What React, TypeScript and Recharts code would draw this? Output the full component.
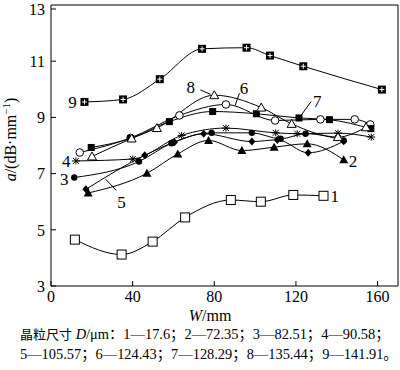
import React from "react";
import {
  ComposedChart,
  Line,
  XAxis,
  YAxis,
  ReferenceLine,
  ReferenceDot,
} from "recharts";

// W (mm) and a (dB/mm), one pair of arrays per grain size
const w1 = [11.7, 34.6, 49.8, 65.7, 88.1, 102.8, 118.7, 133.5];
const a1 = [4.65, 4.12, 4.58, 5.44, 6.06, 6.0, 6.24, 6.21];
const w2 = [18.2, 47, 62.1, 77.2, 93.5, 109.3, 125.5, 143.4];
const a2 = [6.31, 7.01, 7.7, 8.18, 7.82, 7.94, 8.06, 7.49];
const w3 = [11.4, 43.1, 59, 78.7, 98.4, 112.5, 124.7, 143.4];
const a3 = [6.86, 7.43, 8.08, 8.45, 8.45, 8.24, 8.42, 8.18];
const w4 = [12.2, 40.1, 64, 85.7, 110.1, 120.6, 140.6, 156.9];
const a4 = [7.45, 7.52, 8.36, 8.62, 8.45, 8.42, 8.44, 8.3];
const w5 = [17.1, 45.9, 60.5, 74.8, 98.4, 110.9, 126, 143.4];
const a5 = [6.44, 7.65, 8.12, 8.42, 8.14, 8.2, 7.74, 8.15];
const w6 = [14.1, 39, 62.9, 85.7, 109.8, 132, 148.8, 156.4];
const a6 = [7.75, 8.27, 9.07, 9.46, 8.89, 8.93, 8.93, 8.75];
const w7 = [19.7, 39, 58, 79.2, 100.6, 121.5, 136.4, 156.7];
const a7 = [7.93, 8.25, 8.85, 9.21, 9.13, 8.98, 8.92, 8.6];
const w8 = [20.1, 39.5, 51.9, 80, 103, 117.9, 140.6, 154.3];
const a8 = [7.61, 8.25, 8.62, 9.79, 9.35, 8.77, 8.3, 8.65];
const w9 = [16.4, 35.3, 53.3, 74, 95.8, 107.3, 123.6, 162.1];
const a9 = [9.55, 9.64, 10.36, 11.44, 11.48, 11.2, 10.82, 9.99];

const xTicks = [0, 40, 80, 120, 160];
const yTicks = [3, 5, 7, 9, 11, 13];

const grainSizes = ["17.6", "72.35", "82.51", "90.58", "105.57", "124.43", "128.29", "135.44", "141.91"];

// curve number labels and their leader lines (data coords)
const labelText = ["1", "2", "3", "4", "5", "6", "7", "8", "9"];
const labelW = [139, 148, 6.5, 7.5, 34.5, 94.5, 130.5, 68.5, 10.5];
const labelA = [6.2, 7.45, 6.82, 7.47, 6.0, 10.05, 9.6, 10.08, 9.55];
const leaders = [
  [[32, 6.4], [26.8, 6.8]],
  [[92.3, 9.86], [90.2, 9.42]],
  [[127.4, 9.56], [122.3, 9.05]],
  [[73.2, 9.98], [78.2, 9.82]],
];

const markerKinds = ["openSquare", "triangle", "circle", "star", "diamond", "openCircle", "square", "openTriangle", "crossSquare"];

const toPoints = (w: number[], a: number[]) => w.map((x, i) => ({ x, y: a[i] }));
const series = [
  toPoints(w1, a1),
  toPoints(w2, a2),
  toPoints(w3, a3),
  toPoints(w4, a4),
  toPoints(w5, a5),
  toPoints(w6, a6),
  toPoints(w7, a7),
  toPoints(w8, a8),
  toPoints(w9, a9),
];

const FONT = "'Liberation Serif', 'Times New Roman', serif";

const Marker = ({ cx, cy, kind }: { cx: number; cy: number; kind: string }) => {
  if (cx == null || cy == null) return null;
  switch (kind) {
    case "openSquare":
      return <rect x={cx - 4.5} y={cy - 4.5} width={9} height={9} fill="#fff" stroke="#000" strokeWidth={1} />;
    case "crossSquare":
      return (
        <g>
          <rect x={cx - 4} y={cy - 4} width={8} height={8} fill="#000" />
          <line x1={cx - 2.5} x2={cx + 2.5} y1={cy} y2={cy} stroke="#fff" strokeWidth={1} />
          <line x1={cx} x2={cx} y1={cy - 2.5} y2={cy + 2.5} stroke="#fff" strokeWidth={1} />
        </g>
      );
    case "square":
      return <rect x={cx - 3.5} y={cy - 3.5} width={7} height={7} fill="#000" />;
    case "circle":
      return <circle cx={cx} cy={cy} r={3.2} fill="#000" />;
    case "openCircle":
      return <circle cx={cx} cy={cy} r={3.8} fill="#fff" stroke="#000" strokeWidth={1} />;
    case "triangle":
      return <path d={`M${cx},${cy - 4.5}L${cx + 4.5},${cy + 3.5}L${cx - 4.5},${cy + 3.5}Z`} fill="#000" />;
    case "openTriangle":
      return (
        <path
          d={`M${cx},${cy - 4.5}L${cx + 4.5},${cy + 3.5}L${cx - 4.5},${cy + 3.5}Z`}
          fill="#fff"
          stroke="#000"
          strokeWidth={1}
        />
      );
    case "diamond":
      return <path d={`M${cx},${cy - 4}L${cx + 3.5},${cy}L${cx},${cy + 4}L${cx - 3.5},${cy}Z`} fill="#000" />;
    case "star":
      return (
        <g stroke="#000" strokeWidth={1}>
          <line x1={cx - 4} x2={cx + 4} y1={cy} y2={cy} />
          <line x1={cx - 3} x2={cx + 3} y1={cy - 3} y2={cy + 3} />
          <line x1={cx - 3} x2={cx + 3} y1={cy + 3} y2={cy - 3} />
          <line x1={cx} x2={cx} y1={cy - 3.5} y2={cy + 3.5} />
        </g>
      );
    default:
      return null;
  }
};

const YTick = (props: any) => {
  const { x, y, payload } = props;
  return (
    <g>
      <line x1={x + 6} x2={x + 11} y1={y} y2={y} stroke="#000" />
      <text x={x} y={y} dy="0.36em" textAnchor="end" fontSize={16} fontFamily={FONT} fill="#000">
        {payload.value}
      </text>
    </g>
  );
};

const XTick = (props: any) => {
  const { x, y, payload } = props;
  return (
    <g>
      <line x1={x} x2={x} y1={y - 3} y2={y - 8} stroke="#000" />
      <text x={x} y={y} dy="0.8em" textAnchor="middle" fontSize={16} fontFamily={FONT} fill="#000">
        {payload.value}
      </text>
    </g>
  );
};

const renderYTitle = (props: any) => {
  const vb = props.viewBox;
  const x = vb.x + 16;
  const y = vb.y + vb.height / 2 - 6;
  return (
    <text
      x={x}
      y={y}
      transform={`rotate(-90, ${x}, ${y})`}
      textAnchor="middle"
      fontSize={16}
      fontFamily={FONT}
      fill="#000"
    >
      <tspan fontStyle="italic">a</tspan>
      <tspan>/(dB·mm</tspan>
      <tspan dy={-6} fontSize={11}>−1</tspan>
      <tspan dy={6}>)</tspan>
    </text>
  );
};

const renderXTitle = (props: any) => {
  const vb = props.viewBox;
  return (
    <text x={vb.x + 159} y={vb.y + 35} textAnchor="middle" fontSize={16} fontFamily={FONT} fill="#000">
      <tspan fontStyle="italic">W</tspan>
      <tspan>/mm</tspan>
    </text>
  );
};

const captionLine1 = grainSizes.slice(0, 4).map((d, i) => `${i + 1}—${d}；`).join("");
const captionLine2 = grainSizes
  .slice(4)
  .map((d, i) => `${i + 5}—${d}`)
  .join("；") + "。";

const captionStyle: React.CSSProperties = {
  position: "absolute",
  left: 20,
  fontSize: 14.4,
  lineHeight: "15px",
  fontFamily: "'Liberation Serif', 'Noto Sans CJK SC', serif",
  color: "#000",
  whiteSpace: "nowrap",
};

export default function App() {
  return (
    <div style={{ position: "absolute", left: 0, top: 0, width: 400, height: 370, background: "#fff" }}>
      <ComposedChart width={400} height={326} margin={{ top: 5, right: 2, bottom: 0, left: 0 }}>
        <XAxis
          type="number"
          dataKey="x"
          domain={[0, 170]}
          ticks={xTicks}
          allowDataOverflow
          height={40}
          tickSize={0}
          tickMargin={3}
          tick={<XTick />}
          axisLine={{ stroke: "#000" }}
          tickLine={false}
          label={renderXTitle}
        />
        <YAxis
          type="number"
          domain={[3, 13]}
          ticks={yTicks}
          allowDataOverflow
          width={51}
          tickSize={0}
          tickMargin={6}
          tick={<YTick />}
          axisLine={{ stroke: "#000" }}
          tickLine={false}
          label={renderYTitle}
        />
        <ReferenceLine y={13} stroke="#000" strokeWidth={1} ifOverflow="extendDomain" />
        <ReferenceLine x={170} stroke="#000" strokeWidth={1} ifOverflow="extendDomain" />
        {leaders.map((seg, i) => (
          <ReferenceLine
            key={`leader-${i}`}
            segment={[
              { x: seg[0][0], y: seg[0][1] },
              { x: seg[1][0], y: seg[1][1] },
            ]}
            stroke="#000"
            strokeWidth={1}
          />
        ))}
        {series.map((data, i) => (
          <Line
            key={`s${i + 1}`}
            data={data}
            dataKey="y"
            type="monotone"
            stroke="#000"
            strokeWidth={1}
            isAnimationActive={false}
            dot={(p: any) => <Marker key={`m${i}-${p.index}`} cx={p.cx} cy={p.cy} kind={markerKinds[i]} />}
            activeDot={false}
          />
        ))}
        {labelText.map((t, i) => (
          <ReferenceDot
            key={`lbl-${i}`}
            x={labelW[i]}
            y={labelA[i]}
            r={0}
            shape={(p: any) => (
              <text
                x={p.cx}
                y={p.cy}
                dy="0.36em"
                textAnchor="middle"
                fontSize={17}
                fontFamily={FONT}
                fill="#000"
              >
                {t}
              </text>
            )}
          />
        ))}
      </ComposedChart>
      <div style={{ ...captionStyle, top: 327 }}>
        <span style={{ fontSize: 13 }}>晶粒尺寸</span> <i>D</i>/μm：{captionLine1}
      </div>
      <div style={{ ...captionStyle, top: 347 }}>{captionLine2}</div>
    </div>
  );
}
